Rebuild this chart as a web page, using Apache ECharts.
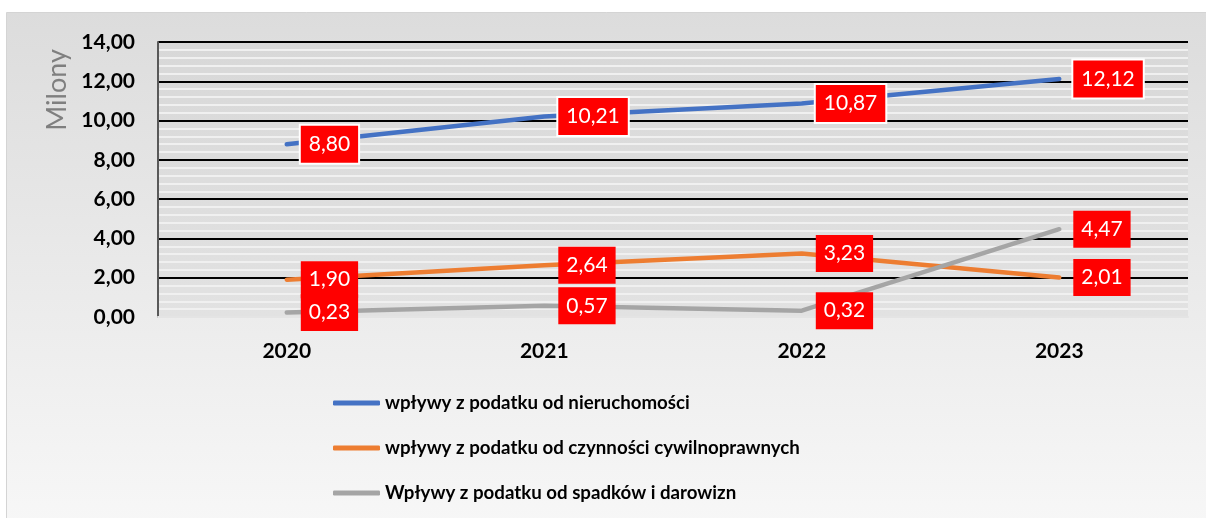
<!DOCTYPE html>
<html>
<head>
<meta charset="utf-8">
<script src="https://cdn.jsdelivr.net/npm/echarts@6/dist/echarts.min.js"></script>
<style>
  html, body { margin: 0; padding: 0; background: #fff; }
  #main { width: 1206px; height: 518px; }
</style>
</head>
<body>
<div id="main"></div>
<script>
// dane (w milionach zł)
var years = ['2020', '2021', '2022', '2023']
var nieruchomosci = [8.80, 10.21, 10.87, 12.12]
var czynnosci = [1.90, 2.64, 3.23, 2.01]
var spadki = [0.23, 0.57, 0.32, 4.47]
var seriesNames = [
  'wpływy z podatku od nieruchomości',
  'wpływy z podatku od czynności cywilnoprawnych',
  'Wpływy z podatku od spadków i darowizn'
]

var font = 'Lato, "Open Sans", sans-serif'

function pl(v) {
  return v.toFixed(2).replace('.', ',')
}

function makeSeries(name, data, color, border) {
  return {
    name: name,
    type: 'line',
    data: data,
    // prawie niewidoczny symbol, żeby etykiety się pokazały
    symbol: 'circle',
    symbolSize: 0.1,
    showSymbol: true,
    lineStyle: { color: color, width: 4.5, cap: 'round', join: 'round' },
    itemStyle: { color: color },
    label: {
      show: true,
      position: 'right',
      distance: 14,
      formatter: function (p) { return pl(p.value) },
      color: '#fff',
      fontFamily: font,
      fontSize: 21,
      lineHeight: 25,
      padding: [6, 8],
      backgroundColor: '#ff0000',
      borderColor: border ? '#fff' : 'transparent',
      borderWidth: border ? 2 : 0
    },
    z: 3
  }
}

var myChart = echarts.init(document.getElementById('main'))

myChart.setOption({
  animation: false,
  graphic: [
    {
      type: 'rect',
      z: -10,
      silent: true,
      shape: { x: 6.5, y: 12.5, width: 1220, height: 530 },
      style: {
        fill: new echarts.graphic.LinearGradient(0, 0, 0, 1, [
          { offset: 0, color: '#dcdcdc' },
          { offset: 1, color: '#f8f8f8' }
        ]),
        stroke: '#d4d4d4',
        lineWidth: 1
      }
    },
    {
      type: 'text',
      x: 57,
      y: 90,
      rotation: Math.PI / 2,
      silent: true,
      style: {
        text: 'Milony',
        fill: '#7f7f7f',
        font: '27px ' + font,
        align: 'center',
        verticalAlign: 'middle'
      }
    }
  ],
  grid: {
    left: 158,
    right: 18,
    top: 42,
    bottom: 201,
    show: true,
    borderWidth: 0,
    backgroundColor: new echarts.graphic.LinearGradient(0, 0, 0, 1, [
      { offset: 0, color: '#d8d8d8' },
      { offset: 1, color: '#e2e2e2' }
    ])
  },
  legend: {
    orient: 'vertical',
    left: 333,
    top: 393,
    padding: 0,
    itemWidth: 47,
    itemHeight: 5,
    itemGap: 25,
    icon: 'roundRect',
    textStyle: {
      color: '#000',
      fontFamily: font,
      fontWeight: 'bold',
      fontSize: 18.7,
      lineHeight: 20
    },
    data: seriesNames
  },
  xAxis: {
    type: 'category',
    data: years,
    axisTick: { show: false },
    axisLine: { lineStyle: { color: '#e4e4e4', width: 2 } },
    axisLabel: {
      color: '#000',
      fontFamily: font,
      fontWeight: 'bold',
      fontSize: 21,
      margin: 24
    }
  },
  yAxis: {
    type: 'value',
    min: 0,
    max: 14,
    interval: 2,
    axisLine: { show: true, lineStyle: { color: '#595959', width: 2 } },
    axisTick: { show: false },
    axisLabel: {
      color: '#000',
      fontFamily: font,
      fontWeight: 'bold',
      fontSize: 21,
      margin: 23,
      formatter: function (v) { return pl(v) }
    },
    splitLine: { lineStyle: { color: '#000', width: 2 } },
    minorTick: { show: false, splitNumber: 5 },
    minorSplitLine: { show: true, lineStyle: { color: '#f0f0f0', width: 2 } }
  },
  series: [
    makeSeries(seriesNames[0], nieruchomosci, '#4472c4', true),
    makeSeries(seriesNames[1], czynnosci, '#ed7d31', false),
    makeSeries(seriesNames[2], spadki, '#a5a5a5', false)
  ]
})
</script>
</body>
</html>
